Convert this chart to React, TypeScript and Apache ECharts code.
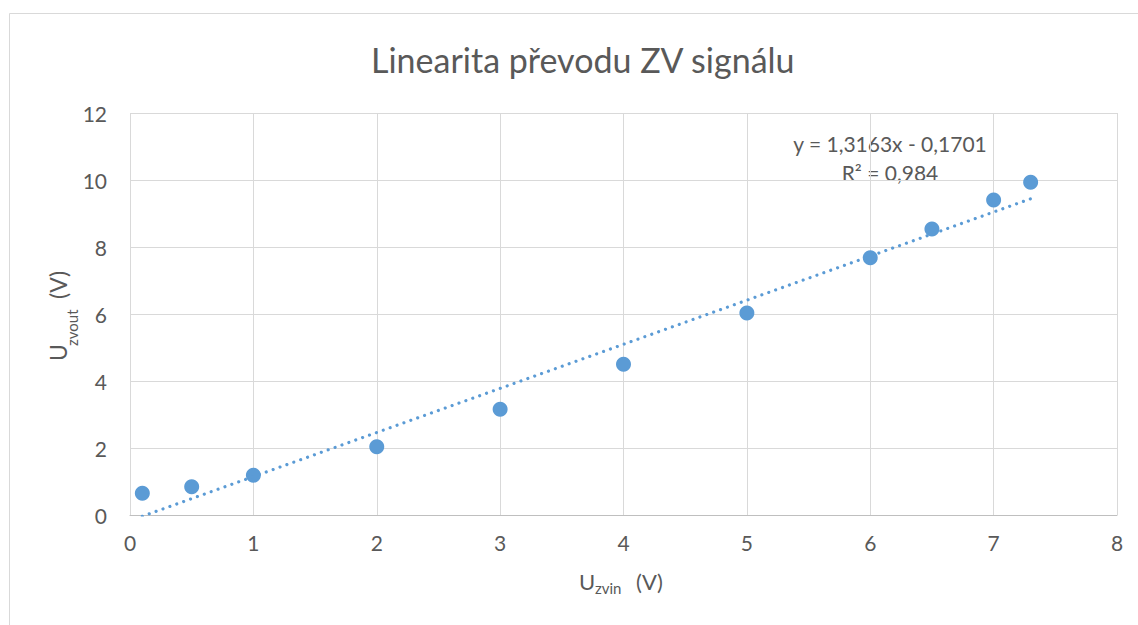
import React, { useEffect, useRef } from "react";
import * as echarts from "echarts";

const TITLE = "Linearita převodu ZV signálu";
const X_VALUES = [0.1, 0.5, 1, 2, 3, 4, 5, 6, 6.5, 7, 7.3];
const Y_VALUES = [0.65, 0.84, 1.19, 2.04, 3.16, 4.5, 6.03, 7.68, 8.54, 9.4, 9.93];
const TREND_SLOPE = 1.3163;
const TREND_INTERCEPT = -0.1701;
const TREND_R2 = 0.984;
const TREND_X_RANGE = [0.1, 7.3];
const X_TICKS = [0, 1, 2, 3, 4, 5, 6, 7, 8];
const Y_TICKS = [0, 2, 4, 6, 8, 10, 12];

const FONT = "Lato, 'Open Sans', sans-serif";
const TEXT = "#595959";
const BLUE = "#5B9BD5";

const fmt = (v: number) => String(v).replace(".", ",");

export default function App() {
  const ref = useRef<HTMLDivElement>(null);
  useEffect(() => {
    if (!ref.current) return;
    const chart = echarts.init(ref.current, undefined, { renderer: "svg" });
    const points = X_VALUES.map((x, i) => [x, Y_VALUES[i]]);
    const trend = TREND_X_RANGE.map((x) => [x, TREND_SLOPE * x + TREND_INTERCEPT]);
    const eq = `y = ${fmt(TREND_SLOPE)}x - ${fmt(Math.abs(TREND_INTERCEPT))}`;
    const r2 = `R² = ${fmt(TREND_R2)}`;
    chart.setOption({
      animation: false,
      backgroundColor: "#fff",
      textStyle: { fontFamily: FONT },
      title: {
        text: TITLE,
        left: 366,
        top: 37,
        textStyle: { fontFamily: FONT, fontSize: 34, fontWeight: "normal", color: TEXT },
      },
      grid: { left: 130, right: 21, top: 113, bottom: 110 },
      xAxis: {
        type: "value",
        min: X_TICKS[0],
        max: X_TICKS[X_TICKS.length - 1],
        interval: 1,
        axisLine: { show: true, lineStyle: { color: "#bfbfbf", width: 1 } },
        axisTick: { show: false },
        axisLabel: { color: TEXT, fontSize: 21, fontFamily: FONT, margin: 17 },
        splitLine: { show: true, lineStyle: { color: "#d9d9d9", width: 1 } },
      },
      yAxis: {
        type: "value",
        min: Y_TICKS[0],
        max: Y_TICKS[Y_TICKS.length - 1],
        interval: 2,
        axisLine: { show: false },
        axisTick: { show: false },
        axisLabel: { color: TEXT, fontSize: 21, fontFamily: FONT, margin: 23 },
        splitLine: { show: true, lineStyle: { color: "#d9d9d9", width: 1 } },
      },
      graphic: [
        {
          type: "rect",
          shape: { x: 9.5, y: 13.5, width: 1200, height: 700 },
          style: { fill: "none", stroke: "#d9d9d9", lineWidth: 1 },
          silent: true,
        },
        { type: "text", x: 579, y: 581, style: { text: "U", font: `22px ${FONT}`, fill: TEXT, textAlign: "left", textVerticalAlign: "middle" } },
        { type: "text", x: 595, y: 588, style: { text: "zvin", font: `15px ${FONT}`, fill: TEXT, textAlign: "left", textVerticalAlign: "middle" } },
        { type: "text", x: 636, y: 581, style: { text: "(V)", font: `22px ${FONT}`, fill: TEXT, textAlign: "left", textVerticalAlign: "middle" } },
        { type: "text", x: 58, y: 361, rotation: Math.PI / 2, style: { text: "U", font: `23px ${FONT}`, fill: TEXT, textAlign: "left", textVerticalAlign: "middle" } },
        { type: "text", x: 72, y: 346, rotation: Math.PI / 2, style: { text: "zvout", font: `15px ${FONT}`, fill: TEXT, textAlign: "left", textVerticalAlign: "middle" } },
        { type: "text", x: 58, y: 299, rotation: Math.PI / 2, style: { text: "(V)", font: `23px ${FONT}`, fill: TEXT, textAlign: "left", textVerticalAlign: "middle" } },
        { type: "text", x: 890, y: 143, style: { text: eq, font: `21px ${FONT}`, fill: TEXT, textAlign: "center", textVerticalAlign: "middle" } },
        { type: "text", x: 890, y: 172, style: { text: r2, font: `21px ${FONT}`, fill: TEXT, textAlign: "center", textVerticalAlign: "middle" } },
      ],
      series: [
        {
          type: "line",
          data: trend,
          symbol: "none",
          silent: true,
          clip: true,
          lineStyle: { color: BLUE, width: 3.2, type: [0.01, 7.3], cap: "round" },
          z: 3,
        },
        {
          type: "scatter",
          data: points,
          symbol: "circle",
          symbolSize: 15,
          itemStyle: { color: BLUE, opacity: 1 },
          z: 2,
        },
      ],
    });
    return () => chart.dispose();
  }, []);
  return <div ref={ref} style={{ position: "absolute", left: 0, top: 0, width: 1138, height: 625 }} />;
}
